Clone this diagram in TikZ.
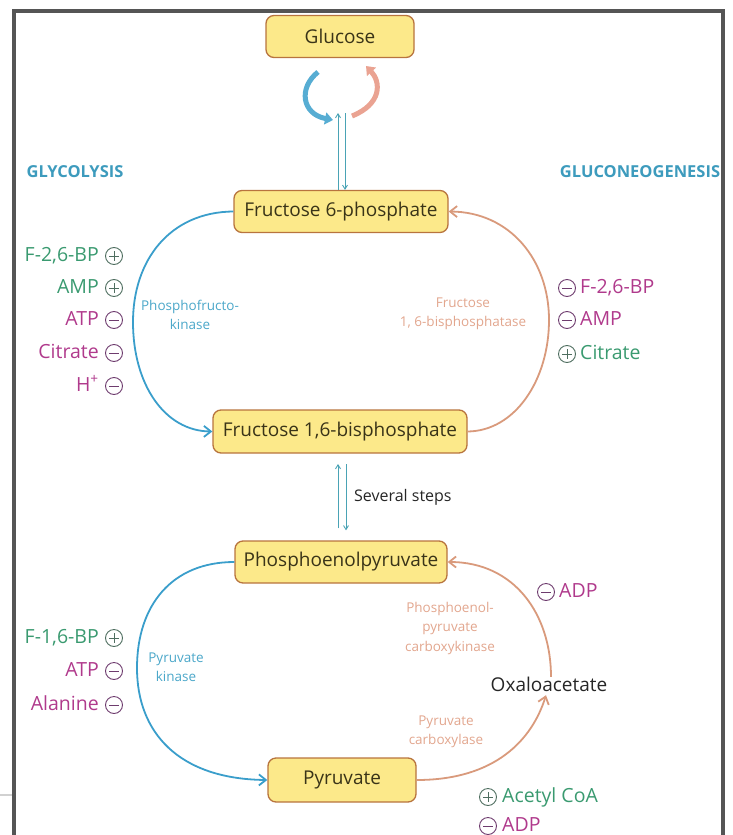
\documentclass[tikz,border=0pt]{standalone}
\usepackage{fontspec}
\setmainfont{Open Sans}
\usetikzlibrary{arrows.meta,calc}
\definecolor{boxfill}{HTML}{FCE98A}
\definecolor{boxdraw}{HTML}{B8743E}
\definecolor{boxtext}{HTML}{3A3418}
\definecolor{glyblue}{HTML}{3A9ECB}
\definecolor{lblblue}{HTML}{4BA7C9}
\definecolor{titblue}{HTML}{3D9BBD}
\definecolor{neoorg}{HTML}{D99A7C}
\definecolor{lblorg}{HTML}{E2A68E}
\definecolor{actgreen}{HTML}{3A9A70}
\definecolor{inhmag}{HTML}{B03A8C}
\definecolor{plusring}{HTML}{4F6E60}
\definecolor{minusring}{HTML}{6E3C6E}
\definecolor{framegrey}{HTML}{555555}
\definecolor{thinline}{HTML}{4AA3B5}
\begin{document}
\begin{tikzpicture}[x=1pt,y=-1pt,
  box/.style={draw=boxdraw, fill=boxfill, rounded corners=8pt, line width=1.3pt,
    text=boxtext, font=\fontsize{19}{22}\selectfont, inner sep=0pt},
  reg/.style={font=\fontsize{19.5}{22}\selectfont, inner sep=0pt, text height=14pt, text depth=4pt},
  enz/.style={font=\fontsize{13.5}{19.5}\selectfont, align=center, inner sep=0pt},
  title/.style={font=\bfseries\fontsize{16.5}{19}\selectfont, text=titblue, inner sep=0pt},
  ringp/.style={circle, draw=plusring, line width=0.9pt, minimum size=17pt, inner sep=0pt,
    path picture={\draw[plusring, line width=0.9pt]
      ($(path picture bounding box.center)+(-5,0)$) -- ($(path picture bounding box.center)+(5,0)$)
      ($(path picture bounding box.center)+(0,-5)$) -- ($(path picture bounding box.center)+(0,5)$);}},
  ringm/.style={circle, draw=minusring, line width=0.9pt, minimum size=17pt, inner sep=0pt,
    path picture={\draw[minusring, line width=0.9pt]
      ($(path picture bounding box.center)+(-5,0)$) -- ($(path picture bounding box.center)+(5,0)$);}},
  glyarc/.style={draw=glyblue, line width=1.8pt, -{Straight Barb[length=7pt,width=11pt]}},
  neoarc/.style={draw=neoorg, line width=1.8pt, -{Straight Barb[length=7pt,width=11pt]}},
  thin/.style={draw=thinline, line width=0.9pt, -{Straight Barb[length=4pt,width=5pt]}}
]
\useasboundingbox (0,0) rectangle (732,835);
% frame
\draw[framegrey, line width=4pt] (14,835) -- (14,11) -- (723,11) -- (723,835);
\draw[black!18, line width=2pt] (0,795) -- (12,795);

% boxes
\node[box, minimum width=148pt, minimum height=42pt] (glc) at (340,36.5) {Glucose};
\node[box, minimum width=214pt, minimum height=42pt] (f6p) at (341,211.5) {Fructose 6-phosphate};
\node[box, minimum width=254pt, minimum height=43pt] (f16) at (340,431.5) {Fructose 1,6-bisphosphate};
\node[box, minimum width=212pt, minimum height=42pt] (pep) at (341,562) {Phosphoenolpyruvate};
\node[box, minimum width=148pt, minimum height=44pt] (pyr) at (342,780) {Pyruvate};
\node[reg, font=\fontsize{19}{22}\selectfont, text=black!85] (oaa) at (549,686) {Oxaloacetate};

% titles
\node[title] (gly) at (75,172) {GLYCOLYSIS};
\node[title] (gng) at (640,172) {GLUCONEOGENESIS};

% glucose <-> F6P
\coordinate (gtopL) at (338,113);
\coordinate (gtopR) at (345,113);
\draw[thin] (f6p.north -| gtopL) -- (gtopL);
\draw[thin] (gtopR) -- (f6p.north -| gtopR);
\draw[glyblue!85, line width=5pt, -{Triangle[length=8pt,width=12pt]}]
  (318,72) .. controls (298,88) and (302,114) .. (333,120);
\draw[neoorg!80!red!70, line width=5pt, -{Triangle[length=8pt,width=12pt]}]
  (352,116) .. controls (382,104) and (381,82) .. (366,66);

% upper cycle
\draw[glyarc] (f6p.west) .. controls (170,212) and (133,260) .. (133,322)
  .. controls (133,385) and (165,431) .. (f16.west);
\draw[neoarc] (f16.east) .. controls (515,431) and (549,380) .. (549,320)
  .. controls (549,260) and (510,212) .. (f6p.east);
\node[enz, text=lblblue] (pfk) at (190,315) {Phosphofructo-\\kinase};
\node[enz, text=lblorg] (fbp) at (463,314) {Fructose\\1, 6-bisphosphatase};

% upper left regulators
\node[ringp] (c1) at (114,256) {};
\node[reg, text=actgreen, anchor=east] (t1) at (99,256) {F-2,6-BP};
\node[ringp] (c2) at (114,288) {};
\node[reg, text=actgreen, anchor=east] (t2) at (99,288) {AMP};
\node[ringm] (c3) at (114,320) {};
\node[reg, text=inhmag, anchor=east] (t3) at (99,320) {ATP};
\node[ringm] (c4) at (114,353) {};
\node[reg, text=inhmag, anchor=east] (t4) at (99,353) {Citrate};
\node[ringm] (c5) at (114,386) {};
\node[reg, text=inhmag, anchor=east] (t5) at (99,386) {H\textsuperscript{+}};

% upper right regulators
\node[ringm] (c6) at (567,288) {};
\node[reg, text=inhmag, anchor=west] (t6) at (580,288) {F-2,6-BP};
\node[ringm] (c7) at (567,320) {};
\node[reg, text=inhmag, anchor=west] (t7) at (580,320) {AMP};
\node[ringp] (c8) at (567,354) {};
\node[reg, text=actgreen, anchor=west] (t8) at (580,354) {Citrate};

% several steps
\coordinate (sL) at (338,464);
\coordinate (sR) at (346,464);
\draw[thin] (pep.north -| sL) ++(0,-12) coordinate (sLb) -- (sL);
\draw[thin] (sR) -- ($(pep.north -| sR)+(0,-10)$) coordinate (sRb);
\node[font=\fontsize{16}{19}\selectfont, text=black!85, anchor=west, inner sep=0pt] (sev) at (354,497) {Several steps};

% lower cycle
\draw[glyarc] (pep.west) .. controls (172,562) and (137,605) .. (137,668)
  .. controls (137,732) and (178,779) .. (pyr.west);
\draw[neoarc] (pyr.east) .. controls (495,780) and (532,740) .. (oaa.south -| 546,0);
\draw[neoarc] (oaa.north -| 551,0) .. controls (551,615) and (515,562) .. (pep.east);
\node[enz, text=lblblue] (pk) at (176,667) {Pyruvate\\kinase};
\node[enz, text=lblorg] (pepck) at (450,628) {Phosphoenol-\\pyruvate\\carboxykinase};
\node[enz, text=lblorg] (pcx) at (446,732) {Pyruvate\\carboxylase};

% lower left regulators
\node[ringp] (c9) at (114,638) {};
\node[reg, text=actgreen, anchor=east] (t9) at (99,638) {F-1,6-BP};
\node[ringm] (c10) at (114,671) {};
\node[reg, text=inhmag, anchor=east] (t10) at (99,671) {ATP};
\node[ringm] (c11) at (114,705) {};
\node[reg, text=inhmag, anchor=east] (t11) at (99,705) {Alanine};

% lower right regulators
\node[ringm] (c12) at (546,592) {};
\node[reg, text=inhmag, anchor=west] (t12) at (559,592) {ADP};
\node[ringp] (c13) at (488,797) {};
\node[reg, text=actgreen, anchor=west] (t13) at (502,797) {Acetyl CoA};
\node[ringm] (c14) at (488,826) {};
\node[reg, text=inhmag, anchor=west] (t14) at (502,826) {ADP};
\end{tikzpicture}
\end{document}
